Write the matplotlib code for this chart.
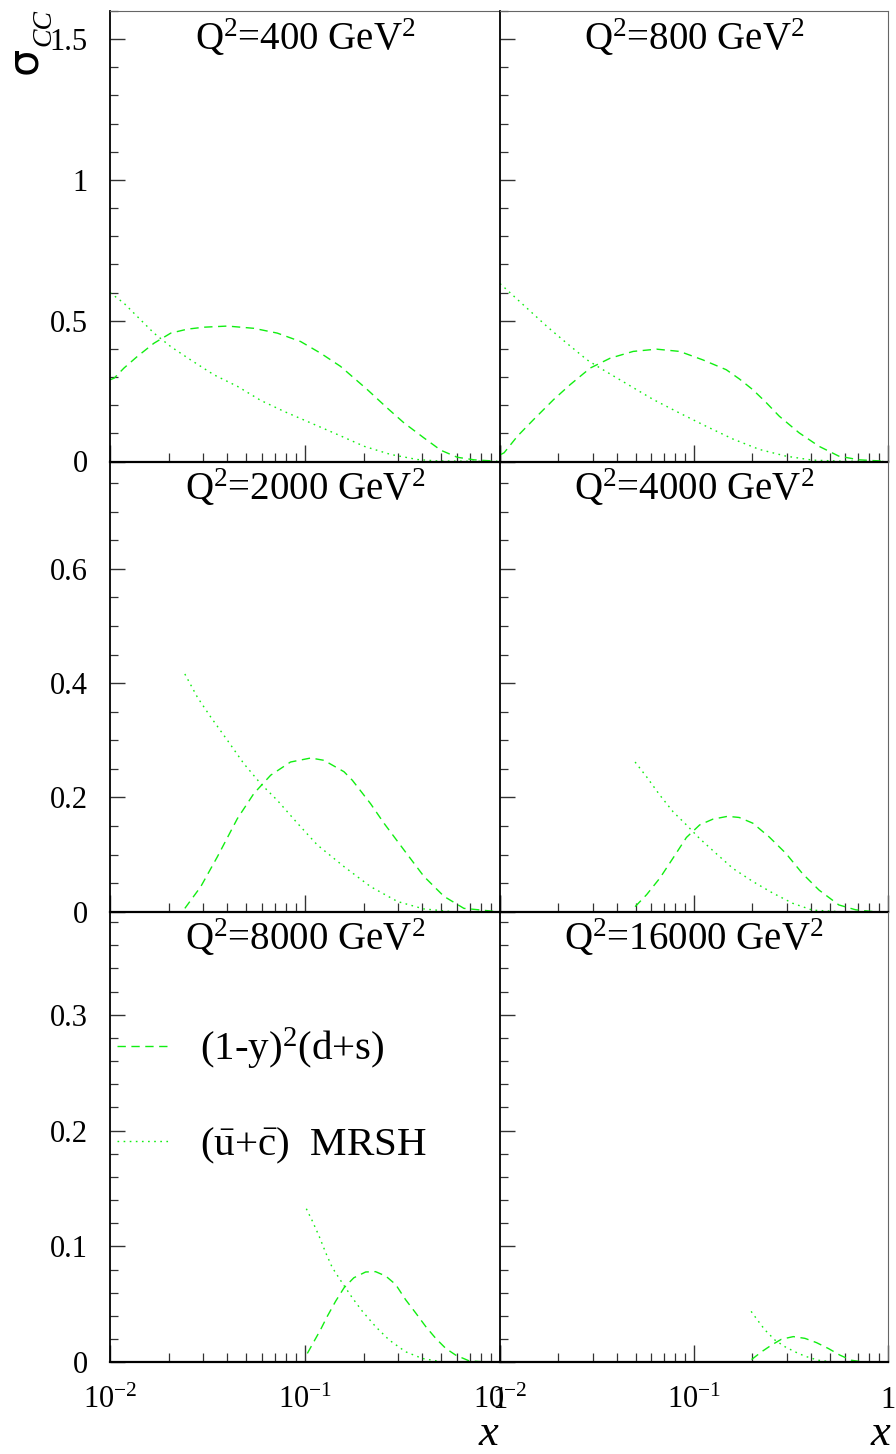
import matplotlib
matplotlib.use('Agg')
import matplotlib.pyplot as plt
from matplotlib.ticker import FixedLocator, MultipleLocator, NullFormatter, FixedFormatter

plt.rcParams['font.family'] = ['Liberation Serif', 'DejaVu Sans']
plt.rcParams['mathtext.fontset'] = 'custom'
plt.rcParams['mathtext.rm'] = 'Liberation Serif'
plt.rcParams['mathtext.it'] = 'Liberation Serif:italic'

# ---------------- data ----------------
q2_labels = ["400", "800", "2000", "4000", "8000", "16000"]

# Q2 = 400
x_ds_400 = [0.0100, 0.0105, 0.0118, 0.0138, 0.0168, 0.0205, 0.0249, 0.0303, 0.040, 0.0547, 0.0721, 0.095,
            0.120, 0.152, 0.209, 0.264, 0.322, 0.407, 0.497, 0.604, 0.736, 0.968]
y_ds_400 = [0.290, 0.296, 0.332, 0.373, 0.420, 0.456, 0.470, 0.477, 0.481, 0.473, 0.456, 0.426,
            0.385, 0.338, 0.255, 0.190, 0.137, 0.084, 0.040, 0.015, 0.006, 0.001]
x_ub_400 = [0.0100, 0.0118, 0.0138, 0.0168, 0.0205, 0.0259, 0.0341, 0.045, 0.0593, 0.078, 0.107,
            0.1466, 0.201, 0.275, 0.377, 0.478, 0.708, 0.970]
y_ub_400 = [0.600, 0.562, 0.515, 0.456, 0.408, 0.361, 0.308, 0.267, 0.217, 0.178, 0.137,
            0.096, 0.054, 0.025, 0.007, 0.002, 0.001, 0.0]

# Q2 = 800
x_ds_800 = [0.0101, 0.0105, 0.0123, 0.0149, 0.0189, 0.023, 0.0292, 0.037, 0.0486, 0.0641, 0.0843, 0.111,
            0.1466, 0.1715, 0.201, 0.235, 0.275, 0.348, 0.441, 0.558, 0.708, 0.968]
y_ds_800 = [0.025, 0.031, 0.090, 0.149, 0.220, 0.273, 0.332, 0.367, 0.391, 0.399, 0.391, 0.361,
            0.326, 0.293, 0.255, 0.210, 0.161, 0.102, 0.054, 0.019, 0.006, 0.001]
x_ub_800 = [0.0100, 0.0138, 0.0175, 0.0221, 0.0281, 0.0328, 0.045, 0.0617, 0.0843, 0.1156, 0.1585,
            0.217, 0.298, 0.407, 0.581, 0.970]
y_ub_800 = [0.632, 0.544, 0.479, 0.420, 0.361, 0.332, 0.276, 0.220, 0.172, 0.125, 0.080,
            0.043, 0.019, 0.005, 0.001, 0.0]

# Q2 = 2000
x_ds_2000 = [0.0242, 0.0292, 0.0355, 0.045, 0.0547, 0.0667, 0.0843, 0.107, 0.125, 0.1585, 0.175,
             0.217, 0.254, 0.322, 0.407, 0.516, 0.653, 0.861, 0.970]
y_ds_2000 = [0.006, 0.044, 0.096, 0.163, 0.207, 0.239, 0.262, 0.269, 0.265, 0.245, 0.230,
             0.189, 0.155, 0.108, 0.062, 0.027, 0.006, 0.002, 0.0]
x_ub_2000 = [0.0242, 0.0281, 0.0328, 0.040, 0.0486, 0.0593, 0.0721, 0.0914, 0.1156, 0.1585, 0.217,
             0.298, 0.407, 0.581, 0.970]
y_ub_2000 = [0.416, 0.375, 0.341, 0.300, 0.259, 0.224, 0.195, 0.155, 0.117, 0.079, 0.044,
             0.018, 0.005, 0.0, 0.0]

# Q2 = 4000
x_ds_4000 = [0.0497, 0.057, 0.0667, 0.078, 0.0914, 0.107, 0.125, 0.149, 0.171, 0.201, 0.244,
             0.298, 0.362, 0.441, 0.558, 0.681, 0.861, 0.970]
y_ds_4000 = [0.009, 0.030, 0.059, 0.094, 0.130, 0.152, 0.162, 0.167, 0.165, 0.155, 0.131,
             0.102, 0.067, 0.038, 0.012, 0.0035, 0.0, 0.0]
x_ub_4000 = [0.0497, 0.057, 0.0667, 0.078, 0.0914, 0.107, 0.130, 0.1585, 0.201, 0.254, 0.322,
             0.407, 0.581, 0.970]
y_ub_4000 = [0.262, 0.236, 0.204, 0.175, 0.152, 0.128, 0.102, 0.076, 0.053, 0.033, 0.015,
             0.003, 0.0, 0.0]

# Q2 = 8000
x_ds_8000 = [0.1028, 0.111, 0.120, 0.130, 0.1435, 0.1585, 0.178, 0.2046, 0.230, 0.2594, 0.2917,
             0.328, 0.370, 0.416, 0.468, 0.527, 0.593, 0.693, 0.879, 0.970]
y_ds_8000 = [0.0076, 0.0177, 0.0279, 0.0395, 0.0526, 0.0642, 0.0729, 0.0779, 0.0782, 0.0744, 0.0671,
             0.054, 0.0424, 0.0308, 0.0206, 0.0119, 0.0061, 0.0012, 0.0, 0.0]
x_ub_8000 = [0.1016, 0.109, 0.118, 0.1276, 0.138, 0.155, 0.175, 0.197, 0.230, 0.270, 0.328,
             0.400, 0.506, 0.970]
y_ub_8000 = [0.1325, 0.122, 0.109, 0.0947, 0.0817, 0.0686, 0.0555, 0.0439, 0.0308, 0.0192, 0.009,
             0.0032, 0.0003, 0.0]

# Q2 = 16000
x_ds_16000 = [0.198, 0.223, 0.251, 0.282, 0.325, 0.373, 0.428, 0.492, 0.565, 0.647, 0.759, 0.970]
y_ds_16000 = [0.0023, 0.009, 0.0148, 0.0198, 0.0221, 0.0206, 0.0169, 0.0119, 0.0061, 0.0017, 0.0, 0.0]
x_ub_16000 = [0.197, 0.215, 0.232, 0.261, 0.294, 0.331, 0.373, 0.437, 0.532, 0.970]
y_ub_16000 = [0.0439, 0.0352, 0.0279, 0.0192, 0.0134, 0.009, 0.0052, 0.0017, 0.0, 0.0]

ds_x = [x_ds_400, x_ds_800, x_ds_2000, x_ds_4000, x_ds_8000, x_ds_16000]
ds_y = [y_ds_400, y_ds_800, y_ds_2000, y_ds_4000, y_ds_8000, y_ds_16000]
ub_x = [x_ub_400, x_ub_800, x_ub_2000, x_ub_4000, x_ub_8000, x_ub_16000]
ub_y = [y_ub_400, y_ub_800, y_ub_2000, y_ub_4000, y_ub_8000, y_ub_16000]

row_ymax = [1.60, 0.788, 0.389]
row_major = [[0, 0.5, 1.0, 1.5], [0, 0.2, 0.4, 0.6], [0, 0.1, 0.2, 0.3]]
row_major_labels = [["0", "0.5", "1", "1.5"], ["0", "0.2", "0.4", "0.6"], ["0", "0.1", "0.2", "0.3"]]
row_minor = [0.1, 0.05, 0.02]
x_major = [0.01, 0.1, 1.0]
x_major_labels = [r"$10^{-2}$", r"$10^{-1}$", "1"]
x_minor = [m * d for d in (0.01, 0.1) for m in range(2, 10)]

legend_labels = [r"(1-y)$^{2}$(d+s)", r"$(\bar{\mathrm{u}}$+$\bar{\mathrm{c}})$  MRSH"]

# ---------------- figure ----------------
W, H = 896, 1454
fig = plt.figure(figsize=(W / 100, H / 100), dpi=100)
green = '#11ee11'

col_left = [110, 500]
col_width = [390, 388]
row_top = [11, 461.3, 911.7]
row_h = 450.5

for r in range(3):
    for c in range(2):
        i = 2 * r + c
        ax = fig.add_axes([col_left[c] / W, 1 - (row_top[r] + row_h) / H, col_width[c] / W, row_h / H])
        ax.set_xscale('log')
        ax.set_xlim(0.01, 1.0)
        ax.set_ylim(0, row_ymax[r])
        ax.plot(ds_x[i], ds_y[i], color=green, lw=1.0, linestyle=(0, (6, 4)), label=legend_labels[0])
        ax.plot(ub_x[i], ub_y[i], color=green, lw=1.0, linestyle=(0, (1.2, 3.2)), label=legend_labels[1])

        ax.xaxis.set_major_locator(FixedLocator(x_major))
        ax.xaxis.set_minor_locator(FixedLocator(x_minor))
        ax.xaxis.set_minor_formatter(NullFormatter())
        ax.yaxis.set_major_locator(FixedLocator(row_major[r]))
        ax.yaxis.set_minor_locator(MultipleLocator(row_minor[r]))
        ax.yaxis.set_minor_formatter(NullFormatter())
        if c == 0:
            ax.yaxis.set_major_formatter(FixedFormatter(row_major_labels[r]))
        else:
            ax.yaxis.set_major_formatter(NullFormatter())
        if r == 2:
            ax.xaxis.set_major_formatter(FixedFormatter(x_major_labels))
        else:
            ax.xaxis.set_major_formatter(NullFormatter())

        ax.tick_params(axis='both', which='both', direction='in', top=False, right=False,
                       colors='#333333', labelcolor='black', labelsize=22)
        ax.tick_params(axis='x', which='major', length=12, width=1.0, pad=17)
        ax.tick_params(axis='x', which='minor', length=6.5, width=0.9)
        ax.tick_params(axis='y', which='major', length=11, width=1.0, pad=16)
        ax.tick_params(axis='y', which='minor', length=5.5, width=0.9)

        ax.spines['left'].set_linewidth(1.3)
        ax.spines['left'].set_color('black')
        ax.spines['bottom'].set_linewidth(1.6)
        ax.spines['bottom'].set_color('black')
        ax.spines['top'].set_visible(r == 0)
        ax.spines['top'].set_linewidth(0.8)
        ax.spines['top'].set_color('#666666')
        ax.spines['right'].set_visible(c == 1)
        ax.spines['right'].set_linewidth(0.8)
        ax.spines['right'].set_color('#666666')
        ax.patch.set_alpha(0)

        ax.text(0.50, 0.94, r"Q$^{2}$=" + q2_labels[i] + r" GeV$^{2}$", transform=ax.transAxes,
                ha='center', va='center', fontsize=28)

        if r == 2 and c == 0:
            ax.legend(loc='upper left', bbox_to_anchor=(0.018, 0.746), frameon=False,
                      fontsize=29.5, handlelength=1.3, handletextpad=0.72, labelspacing=1.3,
                      borderpad=0, borderaxespad=0)

# y title sigma_CC (rotated)
fig.text(24 / W, 1 - 60 / H, "σ", rotation=90, fontsize=31, family='DejaVu Sans',
         ha='center', va='center')
fig.text(44 / W, 1 - 28 / H, "CC", rotation=90, fontsize=20, style='italic',
         ha='center', va='center')

# x titles
fig.text(488 / W, 1 - 1434 / H, "x", fontsize=32, style='italic', ha='center', va='center')
fig.text(880 / W, 1 - 1434 / H, "x", fontsize=32, style='italic', ha='center', va='center')

fig.savefig('out.png', dpi=100)
